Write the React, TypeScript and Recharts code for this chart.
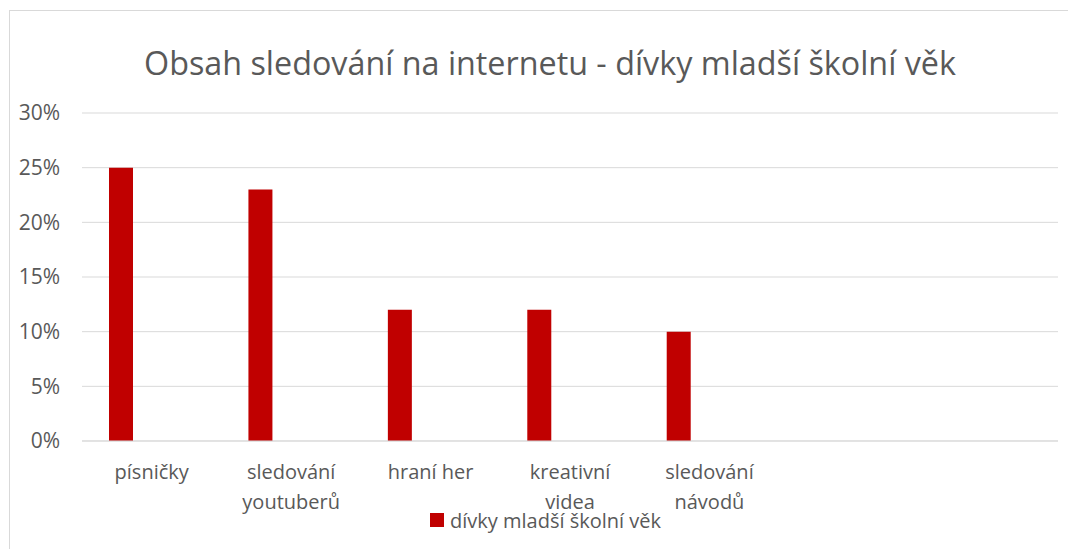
import { BarChart, Bar, XAxis, YAxis, CartesianGrid, Legend } from 'recharts';

// categories as shown on the x axis (last two slots are empty in the source chart)
const categories = ['písničky', 'sledování youtuberů', 'hraní her', 'kreativní videa', 'sledování návodů', '', ''];
const girlsYoung = [25, 23, 12, 12, 10, null, null];
// the source chart has a second, empty series that pushes the red bars left of centre
const emptySeries = [null, null, null, null, null, null, null];
const yTicks = [0, 5, 10, 15, 20, 25, 30];

const SERIES_NAME = 'dívky mladší školní věk';
const TITLE = 'Obsah sledování na internetu - dívky mladší školní věk';

const chartData = categories.map((name, i) => ({
  name,
  girls: girlsYoung[i],
  other: emptySeries[i],
}));

const TEXT = '#595959';
const GRID = '#d9d9d9';
const RED = '#c00000';
const FONT = '"Open Sans", sans-serif';

function wrapLabel(label: string, maxChars = 12): string[] {
  const words = label.split(' ');
  const lines: string[] = [];
  let cur = '';
  for (const w of words) {
    if (!cur) cur = w;
    else if ((cur + ' ' + w).length <= maxChars) cur += ' ' + w;
    else {
      lines.push(cur);
      cur = w;
    }
  }
  if (cur) lines.push(cur);
  return lines;
}

function CategoryTick({ x, y, payload }: any) {
  const lines = wrapLabel(String(payload.value ?? ''));
  return (
    <g transform={`translate(${x},${y})`}>
      <text textAnchor="middle" fill={TEXT} fontSize={20} fontFamily={FONT}>
        {lines.map((line, i) => (
          <tspan key={i} x={0} dy={i === 0 ? 36 : 30}>
            {line}
          </tspan>
        ))}
      </text>
    </g>
  );
}

function LegendBox() {
  return (
    <div style={{ height: 28, display: 'flex', alignItems: 'center', fontFamily: FONT, fontSize: 20, color: TEXT }}>
      <span style={{ width: 14, height: 14, background: RED, display: 'inline-block', marginRight: 6 }} />
      <span>{SERIES_NAME}</span>
    </div>
  );
}

export default function App() {
  return (
    <div style={{ position: 'relative', width: 1068, height: 541, overflow: 'hidden', background: '#fff', fontFamily: FONT }}>
      <div
        style={{
          position: 'absolute',
          left: 1,
          top: 2,
          width: 1100,
          height: 600,
          borderTop: `1px solid ${GRID}`,
          borderLeft: `1px solid ${GRID}`,
        }}
      />
      <div
        style={{
          position: 'absolute',
          left: 0,
          top: 38,
          width: 1084,
          textAlign: 'center',
          fontSize: 32.3,
          lineHeight: '32px',
          color: TEXT,
          whiteSpace: 'nowrap',
        }}
      >
        {TITLE}
      </div>
      <div style={{ position: 'absolute', left: 0, top: 0 }}>
        <BarChart
          width={1068}
          height={541}
          data={chartData}
          margin={{ top: 105, right: 18, bottom: 0, left: 0 }}
          barSize={24}
          barGap={37}
        >
          <CartesianGrid vertical={false} stroke={GRID} />
          <XAxis
            dataKey="name"
            height={80}
            tickLine={false}
            axisLine={{ stroke: GRID }}
            tick={<CategoryTick />}
            interval={0}
            tickSize={0}
          />
          <YAxis
            width={74}
            domain={[0, 30]}
            ticks={yTicks}
            tickFormatter={(v) => `${v}%`}
            axisLine={false}
            tickLine={false}
            tickSize={0}
            tickMargin={22}
            tick={{ fill: TEXT, fontSize: 21, fontFamily: FONT }}
          />
          <Legend
            verticalAlign="bottom"
            content={<LegendBox />}
            wrapperStyle={{ left: 422, top: 498, width: 260 }}
          />
          <Bar dataKey="girls" name={SERIES_NAME} fill={RED} isAnimationActive={false} />
          <Bar dataKey="other" fill={RED} legendType="none" isAnimationActive={false} />
        </BarChart>
      </div>
    </div>
  );
}
